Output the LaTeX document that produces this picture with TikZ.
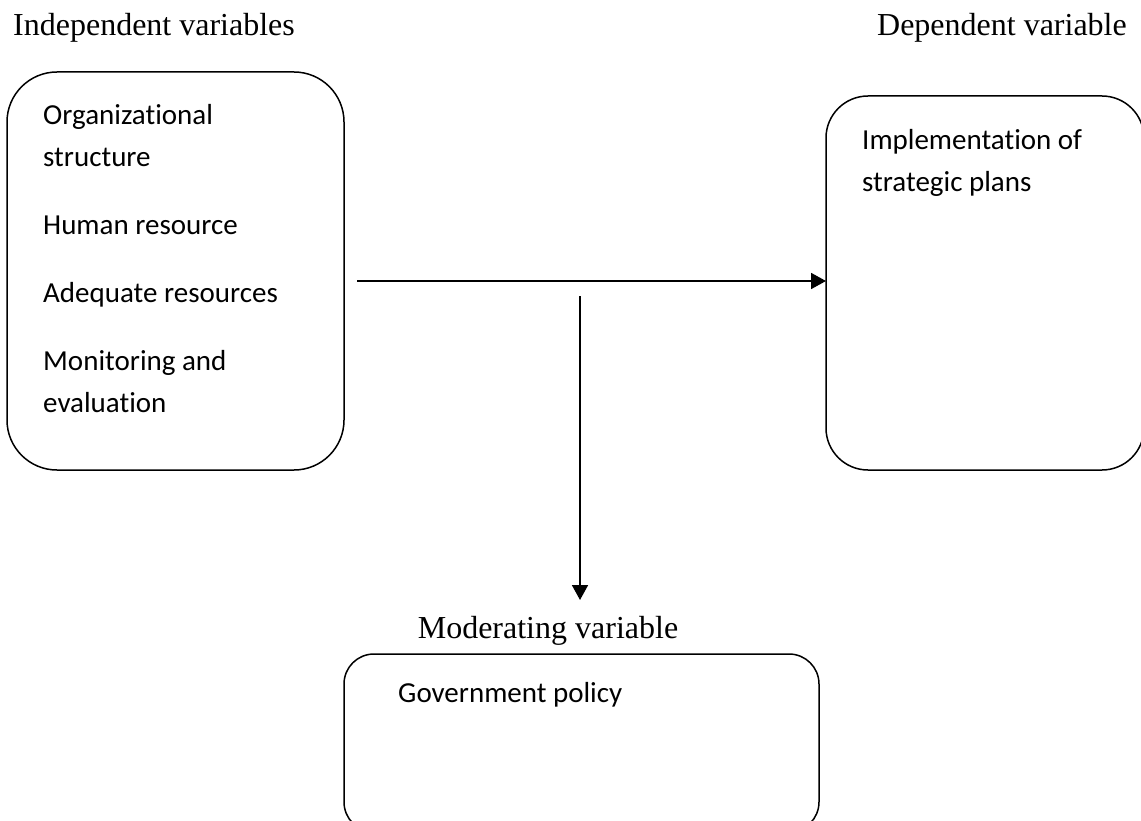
\documentclass[tikz,border=0pt]{standalone}
\usepackage{fontspec}
\setmainfont{Liberation Serif}
\newfontfamily\boxfont[Ligatures={NoCommon}]{Carlito}
\usetikzlibrary{arrows.meta}
\begin{document}
\begin{tikzpicture}[x=1pt,y=-1pt,
  varbox/.style={draw, line width=1.5pt, rectangle, anchor=north west, inner sep=0pt, outer sep=0pt},
  title/.style={font=\fontsize{32}{38}\selectfont, inner sep=0pt},
  item/.style={font=\boxfont\fontsize{29}{35}\selectfont, inner sep=0pt, anchor=base west},
  conn/.style={line width=1.8pt, -{Triangle[length=15pt,width=16pt]}}]
\clip (0,0) rectangle (1141,821);
% boxes
\node[varbox, rounded corners=50pt, minimum width=337pt, minimum height=398pt] (lbox) at (7,72) {};
\node[varbox, rounded corners=42pt, minimum width=318pt, minimum height=374pt] (rbox) at (826,96) {};
\node[varbox, rounded corners=30pt, minimum width=475pt, minimum height=178pt] (bbox) at (344,654) {};
% titles
\node[title, anchor=base west] (tind) at (13,36) {Independent variables};
\node[title, anchor=base east] (tdep) at (1127,36) {Dependent variable};
\node[title, anchor=base] (tmod) at (548,638) {Moderating variable};
% left box items
\node[item] (i1) at (43,125) {Organizational};
\node[item] (i2) at (43,167) {structure};
\node[item] (i3) at (43,235) {Human resource};
\node[item] (i4) at (43,302) {Adequate resources};
\node[item] (i5) at (43,370) {Monitoring and};
\node[item] (i6) at (43,412) {evaluation};
% right box items
\node[item] (r1) at (862,150) {Implementation of};
\node[item] (r2) at (862,192) {strategic plans};
% bottom box item
\node[item] (b1) at (398,702) {Government policy};
% connectors
\coordinate (hs) at (357,281);
\coordinate (vs) at (580,296);
\coordinate (ve) at (580,600);
\draw[conn] (hs) -- (rbox.west |- hs);
\draw[conn] (vs) -- (ve);
\end{tikzpicture}
\end{document}
